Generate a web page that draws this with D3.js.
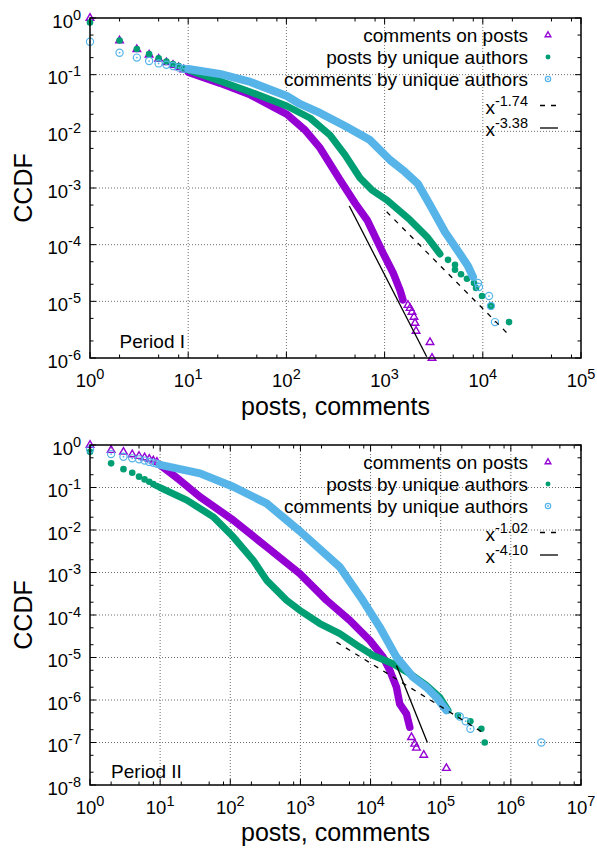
<!DOCTYPE html>
<html><head><meta charset="utf-8">
<script src="https://cdn.jsdelivr.net/npm/d3@7"></script>
<style>
body{margin:0;background:#fff}
text{font-family:"Liberation Sans",Arial,Helvetica,sans-serif;fill:#000}
</style>
</head><body>
<svg id="c" width="597" height="853"></svg>
<script>
// ---------- DATA ----------
const seriesNames = ["comments on posts", "posts by unique authors", "comments by unique authors"];
const xLabel = "posts, comments";
const yLabel = "CCDF";
const periodLabels = ["Period I", "Period II"];
const p1FitExps = ["-1.74", "-3.38"];
const p2FitExps = ["-1.02", "-4.10"];

// Period I
const p1CommentsHead = [[1,1.0],[2,0.40],[3,0.28],[4,0.225],[5,0.19],[6,0.165],[7,0.148],[8,0.135],[9,0.123]];
const p1CommentsBand = [[10,0.111],[21,0.071],[43,0.044],[101,0.020],[155,0.0105],[220,5.1e-3],[352,1.38e-3],[500,5.4e-4],[663,2.73e-4],[964,7.1e-5],[1219,3.2e-5],[1435,1.58e-5],[1538,1.06e-5]];
const p1CommentsTail = [[1730,8.6e-6],[1815,7.6e-6],[1900,6.5e-6],[1990,5.3e-6],[2040,4.15e-6],[2090,3.0e-6],[2900,1.9e-6],[3040,1.0e-6]];

const p1PostsHead = [[1,0.83],[2,0.40],[3,0.284],[4,0.23],[5,0.195],[6,0.17],[7,0.154],[8,0.142],[9,0.13]];
const p1PostsBand = [[10,0.121],[21,0.0773],[43,0.0495],[101,0.028],[174,0.0172],[278,8.6e-3],[395,3.83e-3],[562,1.5e-3],[744,9.2e-4],[1057,6.1e-4],[1815,2.73e-4],[2706,1.37e-4],[3664,6.85e-5]];
const p1PostsTail = [[4425,5.4e-5],[5210,4.4e-5],[5210,3.6e-5],[6000,3.0e-5],[6900,2.5e-5],[8130,2.1e-5],[8530,1.72e-5],[9820,1.24e-5],[12100,8.3e-6],[18500,4.3e-6]];

const p1AuthorsHead = [[1,0.38],[2,0.244],[3,0.2],[4,0.174],[5,0.158],[6,0.15],[7,0.142],[8,0.133],[9,0.127]];
const p1AuthorsBand = [[10,0.126],[21,0.103],[43,0.0743],[101,0.042],[137,0.0304],[220,0.0211],[395,0.0124],[710,7.0e-3],[1135,3.12e-3],[1614,1.92e-3],[2188,1.18e-3],[2900,5.0e-4],[4120,1.67e-4],[5860,6.85e-5],[7060,4.2e-5],[7950,2.7e-5]];
const p1AuthorsTail = [[8930,2.1e-5],[9140,1.79e-5],[11560,1.24e-5],[12100,8.3e-6],[13300,4.3e-6]];

const p1FitDashed = [[1050,3.8e-4],[17500,2.8e-6]];
const p1FitSolid = [[437,4.8e-4],[2685,1.05e-6]];

// Period II
const p2CommentsHead = [[1,1.0],[2,0.76],[3,0.69],[4,0.60],[5,0.55],[6,0.51],[7,0.47],[8,0.43],[9,0.40]];
const p2CommentsBand = [[10,0.34],[19,0.15],[37,0.0604],[110,0.0171],[329,4.0e-3],[980,9.4e-4],[2355,2.22e-4],[5060,7.5e-5],[9750,2.53e-5],[15070,1.02e-5],[18800,5.0e-6],[23400,2.0e-6],[26000,8.1e-7],[32500,4.7e-7],[36200,2.29e-7]];
const p2CommentsTail = [[38300,1.33e-7],[42600,9.3e-8],[45100,7.5e-8],[57300,5.1e-8],[120500,2.5e-8]];

const p2PostsHead = [[1,0.69],[2,0.37],[3,0.27],[4,0.223],[5,0.18],[6,0.155],[7,0.137],[8,0.12],[9,0.108]];
const p2PostsBand = [[10,0.099],[24,0.0505],[57,0.0204],[110,6.9e-3],[212,1.95e-3],[329,6.6e-4],[634,2.22e-4],[980,1.29e-4],[1890,6.3e-5],[3640,3.64e-5],[7020,1.76e-5],[10870,1.12e-5],[20900,7.1e-6],[36200,4.15e-6],[62500,2.2e-6],[96800,1.16e-6],[127000,5.7e-7]];
const p2PostsTail = [[176000,4.3e-7],[265000,3.17e-7],[380000,2.1e-7],[424000,1.0e-7]];

const p2AuthorsHead = [[1,0.79],[2,0.61],[3,0.53],[4,0.485],[5,0.46],[6,0.43],[7,0.40],[8,0.38],[9,0.36]];
const p2AuthorsBand = [[10,0.34],[37,0.215],[110,0.104],[329,0.0422],[980,9.4e-3],[3640,1.35e-3],[7740,2.22e-4],[13500,5.2e-5],[23400,1.02e-5],[40300,3.45e-6],[62500,2.0e-6],[86900,1.16e-6],[120500,5.7e-7]];
const p2AuthorsTail = [[186600,4.1e-7],[227000,3.17e-7],[265000,2.1e-7],[2720000,1.0e-7]];

const p2FitDashed = [[3270,2.3e-5],[396000,1.73e-7]];
const p2FitSolid = [[23400,6.5e-6],[64600,1.0e-7]];

// axis tick exponents
const p1XExps = [0,1,2,3,4,5];
const p1YExps = [0,-1,-2,-3,-4,-5,-6];
const p2XExps = [0,1,2,3,4,5,6,7];
const p2YExps = [0,-1,-2,-3,-4,-5,-6,-7,-8];
const xMinorMult = [2,5,8];
const yMinorMult = [2,5];

// ---------- STYLE ----------
const colors = ["#9400d3", "#009e73", "#56b4e9"];
const bandWidths = [7.5, 7, 8];

const svg = d3.select("#c");

function marker(g, kind, cx, cy, color, s) {
  s = s || 1;
  if (kind === 0) {
    g.append("path")
      .attr("d", `M${cx},${cy-4.3*s}L${cx+3.8*s},${cy+2.3*s}L${cx-3.8*s},${cy+2.3*s}Z`)
      .attr("fill", "none").attr("stroke", color).attr("stroke-width", 1.4);
  } else if (kind === 1) {
    g.append("circle").attr("cx", cx).attr("cy", cy).attr("r", 3.3*s).attr("fill", color);
  } else {
    g.append("circle").attr("cx", cx).attr("cy", cy).attr("r", 3.6*s)
      .attr("fill", "none").attr("stroke", color).attr("stroke-width", 1.2);
    g.append("circle").attr("cx", cx).attr("cy", cy).attr("r", 0.9).attr("fill", color);
  }
}

function powLabel(sel, base, exp, supSize) {
  sel.append("tspan").text(base);
  sel.append("tspan").attr("dy", -8).attr("font-size", supSize).text(exp);
}

function drawPanel(cfg) {
  const x = d3.scaleLog().domain([1, Math.pow(10, d3.max(cfg.xExps))]).range([cfg.left, cfg.right]);
  const y = d3.scaleLog().domain([Math.pow(10, d3.min(cfg.yExps)), 1]).range([cfg.bottom, cfg.top]);
  const g = svg.append("g");

  // grid
  const xMaj = cfg.xExps.map(e => Math.pow(10, e));
  const yMaj = cfg.yExps.map(e => Math.pow(10, e));
  g.selectAll(".gx").data(xMaj.slice(1, -1)).join("line")
    .attr("x1", d => x(d)).attr("x2", d => x(d)).attr("y1", cfg.top).attr("y2", cfg.bottom)
    .attr("stroke", "#707070").attr("stroke-width", 1).attr("stroke-dasharray", "1,2");
  g.selectAll(".gy").data(yMaj.slice(1, -1)).join("line")
    .attr("y1", d => y(d)).attr("y2", d => y(d)).attr("x1", cfg.left).attr("x2", cfg.right)
    .attr("stroke", "#707070").attr("stroke-width", 1).attr("stroke-dasharray", "1,2");

  // ticks
  const xMin = [];
  cfg.xExps.slice(0, -1).forEach(e => xMinorMult.forEach(m => xMin.push(m * Math.pow(10, e))));
  const yMin = [];
  cfg.yExps.slice(1).forEach(e => yMinorMult.forEach(m => yMin.push(m * Math.pow(10, e))));
  const tk = g.append("g").attr("stroke", "#000").attr("stroke-width", 1);
  const xt = xMaj.map(v => [v, 6]).concat(xMin.map(v => [v, 3.5]));
  const yt = yMaj.map(v => [v, 6]).concat(yMin.map(v => [v, 3.5]));
  xt.forEach(([v, l]) => {
    tk.append("line").attr("x1", x(v)).attr("x2", x(v)).attr("y1", cfg.bottom).attr("y2", cfg.bottom - l);
    tk.append("line").attr("x1", x(v)).attr("x2", x(v)).attr("y1", cfg.top).attr("y2", cfg.top + l);
  });
  yt.forEach(([v, l]) => {
    tk.append("line").attr("y1", y(v)).attr("y2", y(v)).attr("x1", cfg.left).attr("x2", cfg.left + l);
    tk.append("line").attr("y1", y(v)).attr("y2", y(v)).attr("x1", cfg.right).attr("x2", cfg.right - l);
  });

  // tick labels
  cfg.xExps.forEach(e => {
    const t = g.append("text").attr("x", x(Math.pow(10, e))).attr("y", cfg.bottom + 28.5)
      .attr("text-anchor", "middle").attr("font-size", 18.5);
    powLabel(t, "10", String(e), 14.5);
  });
  cfg.yExps.forEach(e => {
    const t = g.append("text").attr("x", 81).attr("y", y(Math.pow(10, e)) + 9.5)
      .attr("text-anchor", "end").attr("font-size", 18.5);
    powLabel(t, "10", String(e), 14.5);
  });

  // data
  const line = d3.line().x(d => x(d[0])).y(d => y(d[1]));
  const dg = g.append("g");
  cfg.series.forEach((s, i) => {
    dg.append("path").datum(s.band).attr("d", line)
      .attr("fill", "none").attr("stroke", colors[i]).attr("stroke-width", bandWidths[i])
      .attr("stroke-linecap", "round").attr("stroke-linejoin", "round");
    s.head.concat(s.tail).forEach(d => marker(dg, i, x(d[0]), y(d[1]), colors[i]));
  });

  // fit lines
  dg.append("path").datum(cfg.fitDashed).attr("d", line).attr("fill", "none")
    .attr("stroke", "#000").attr("stroke-width", 1.3).attr("stroke-dasharray", "5,6");
  dg.append("path").datum(cfg.fitSolid).attr("d", line).attr("fill", "none")
    .attr("stroke", "#000").attr("stroke-width", 1.3);

  // frame
  g.append("rect").attr("x", cfg.left).attr("y", cfg.top)
    .attr("width", cfg.right - cfg.left).attr("height", cfg.bottom - cfg.top)
    .attr("fill", "none").attr("stroke", "#000").attr("stroke-width", 1.5);

  // legend
  const rows = [23.5, 45.5, 67.5, 95.5, 118];
  seriesNames.forEach((n, i) => {
    g.append("text").attr("x", 528).attr("y", cfg.top + rows[i]).attr("text-anchor", "end")
      .attr("font-size", 19).text(n);
    marker(g, i, 548, cfg.top + rows[i] - 6.5, colors[i], 0.75);
  });
  cfg.fitExps.forEach((e, j) => {
    const t = g.append("text").attr("x", 528).attr("y", cfg.top + rows[3 + j]).attr("text-anchor", "end")
      .attr("font-size", 19);
    powLabel(t, "x", e, 14.5);
    g.append("line").attr("x1", 540).attr("x2", 558)
      .attr("y1", cfg.top + rows[3 + j] - 8).attr("y2", cfg.top + rows[3 + j] - 8)
      .attr("stroke", "#000").attr("stroke-width", 1.3)
      .attr("stroke-dasharray", j === 0 ? "5,6" : null);
  });

  // period label
  g.append("text").attr("x", x(2)).attr("y", cfg.periodY).attr("font-size", 19).text(cfg.period);

  // axis labels
  g.append("text").attr("x", (cfg.left + cfg.right) / 2).attr("y", cfg.xLabelY)
    .attr("text-anchor", "middle").attr("font-size", 25).text(xLabel);
  g.append("text").attr("transform", `translate(31.5,${(cfg.top + cfg.bottom) / 2}) rotate(-90)`)
    .attr("text-anchor", "middle").attr("font-size", 25).text(yLabel);
}

drawPanel({
  left: 90, right: 581, top: 18, bottom: 358,
  xExps: p1XExps, yExps: p1YExps,
  series: [
    {head: p1CommentsHead, band: p1CommentsBand, tail: p1CommentsTail},
    {head: p1PostsHead, band: p1PostsBand, tail: p1PostsTail},
    {head: p1AuthorsHead, band: p1AuthorsBand, tail: p1AuthorsTail}
  ],
  fitDashed: p1FitDashed, fitSolid: p1FitSolid, fitExps: p1FitExps,
  period: periodLabels[0], periodY: 348, xLabelY: 415
});
drawPanel({
  left: 90, right: 581, top: 445, bottom: 785,
  xExps: p2XExps, yExps: p2YExps,
  series: [
    {head: p2CommentsHead, band: p2CommentsBand, tail: p2CommentsTail},
    {head: p2PostsHead, band: p2PostsBand, tail: p2PostsTail},
    {head: p2AuthorsHead, band: p2AuthorsBand, tail: p2AuthorsTail}
  ],
  fitDashed: p2FitDashed, fitSolid: p2FitSolid, fitExps: p2FitExps,
  period: periodLabels[1], periodY: 778, xLabelY: 841
});
</script>
</body></html>
